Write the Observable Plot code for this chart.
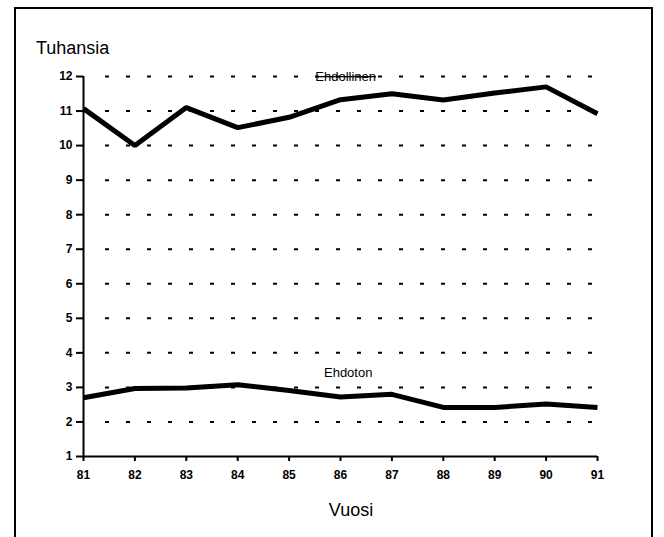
<!DOCTYPE html>
<html>
<head>
<meta charset="utf-8">
<script src="https://cdn.jsdelivr.net/npm/d3@7"></script>
<script src="https://cdn.jsdelivr.net/npm/@observablehq/plot@0.6"></script>
<style>
  html, body { margin: 0; padding: 0; background: #fff; }
  body { width: 664px; height: 537px; position: relative; overflow: hidden; font-family: "Liberation Sans", Arial, sans-serif; }
  #frame { position: absolute; left: 14px; top: 7px; width: 639px; height: 560px; border: 2px solid #000; border-bottom: none; box-sizing: border-box; }
  #chart { position: absolute; left: 0; top: 0; }
  .title { position: absolute; color: #000; font-size: 18px; line-height: 1; white-space: nowrap; }
  #ytitle { left: 36px; top: 39px; }
  #xtitle { left: 351px; top: 501px; transform: translateX(-50%); }
</style>
</head>
<body>
<div id="frame"></div>
<div id="chart"></div>
<div class="title" id="ytitle">Tuhansia</div>
<div class="title" id="xtitle">Vuosi</div>
<script>
// Data
const years = [81, 82, 83, 84, 85, 86, 87, 88, 89, 90, 91];
const ehdollinen = [11.07, 10.0, 11.1, 10.52, 10.82, 11.33, 11.5, 11.32, 11.52, 11.7, 10.92];
const ehdoton = [2.7, 2.97, 2.98, 3.08, 2.91, 2.72, 2.8, 2.42, 2.42, 2.52, 2.42];
const yTicks = [1, 2, 3, 4, 5, 6, 7, 8, 9, 10, 11, 12];
const gridValues = [2, 3, 4, 5, 6, 7, 8, 9, 10, 11, 12];
const seriesLabels = ["Ehdollinen", "Ehdoton"];
const labelYears = [86.1, 86.15];
const labelValues = [12, 3.43];

const rows = [
  ...years.map((y, i) => ({year: y, value: ehdollinen[i], series: seriesLabels[0]})),
  ...years.map((y, i) => ({year: y, value: ehdoton[i], series: seriesLabels[1]}))
];
const labels = seriesLabels.map((s, i) => ({label: s, year: labelYears[i], value: labelValues[i]}));

// dashed gridline: first dash 22px right of the axis, 4px dashes every 21px (24 dashes)
const dash = "0,22," + Array(24).fill("4,17").join(",") + ",0,2000";

const chart = Plot.plot({
  width: 664,
  height: 537,
  marginLeft: 83,
  marginRight: 67,
  marginTop: 76,
  marginBottom: 81,
  style: {fontFamily: "'Liberation Sans', Arial, sans-serif", fontSize: "12px", color: "#000", background: "transparent"},
  x: {domain: [81, 91]},
  y: {domain: [1, 12]},
  marks: [
    Plot.ruleY(gridValues, {x1: 81, x2: 91, stroke: "#000", strokeWidth: 2, strokeDasharray: dash}),
    Plot.axisY({ticks: yTicks, tickSize: 7, tickPadding: 4, strokeWidth: 2, fontWeight: "bold", fontSize: 12, label: null}),
    Plot.axisX({ticks: years, tickSize: 5, tickPadding: 9, strokeWidth: 2, fontWeight: "bold", fontSize: 12, label: null}),
    Plot.ruleX([81], {y1: 1, y2: 12, stroke: "#000", strokeWidth: 2}),
    Plot.ruleY([1], {x1: 81, x2: 91, stroke: "#000", strokeWidth: 2}),
    Plot.line(rows, {x: "year", y: "value", z: "series", stroke: "#000", strokeWidth: 5, strokeLinejoin: "miter", strokeLinecap: "butt"}),
    Plot.text(labels, {x: "year", y: "value", text: "label", fontSize: 13, fill: "#000"})
  ]
});
document.getElementById("chart").appendChild(chart);
// strike-through look of the top label where the gridline crosses it
d3.select(chart).selectAll("text").filter(function() { return this.textContent === seriesLabels[0]; })
  .style("text-decoration", "line-through");
</script>
</body>
</html>
